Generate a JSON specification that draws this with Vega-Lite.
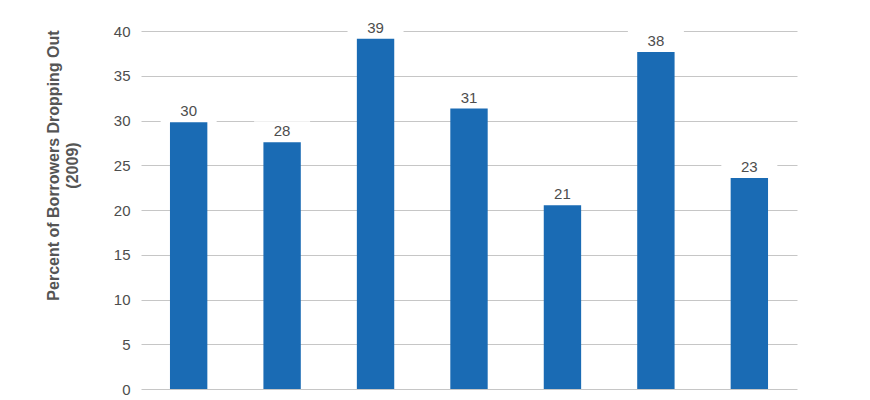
{
  "$schema": "https://vega.github.io/schema/vega-lite/v6.json",
  "width": 656,
  "height": 358,
  "autosize": "none",
  "padding": {"left": 141, "top": 31, "right": 73, "bottom": 11},
  "background": "white",
  "config": {
    "view": {"stroke": null},
    "font": "Liberation Sans"
  },
  "data": {
    "values": [
      {"group": "1", "value": 29.8, "label": "30"},
      {"group": "2", "value": 27.57, "label": "28"},
      {"group": "3", "value": 39.14, "label": "39"},
      {"group": "4", "value": 31.33, "label": "31"},
      {"group": "5", "value": 20.54, "label": "21"},
      {"group": "6", "value": 37.65, "label": "38"},
      {"group": "7", "value": 23.58, "label": "23"}
    ]
  },
  "encoding": {
    "x": {
      "field": "group",
      "type": "nominal",
      "sort": null,
      "scale": {"paddingInner": 0.6, "paddingOuter": 0.31},
      "axis": null
    }
  },
  "layer": [
    {
      "mark": {"type": "bar", "color": "white", "width": 56, "y2Offset": -21},
      "encoding": {
        "y": {
          "field": "value",
          "type": "quantitative",
          "scale": {"domain": [0, 40], "nice": false},
          "axis": {
            "values": [0, 5, 10, 15, 20, 25, 30, 35, 40],
            "title": ["Percent of Borrowers Dropping Out", "(2009)"],
            "titleFont": "Liberation Sans",
            "titleFontSize": 16,
            "titleFontWeight": "bold",
            "titleColor": "#555555",
            "titleX": -88,
            "titleY": 134,
            "titleAngle": -90,
            "titleAlign": "center",
            "titleBaseline": "middle",
            "titleLineHeight": 19,
            "labelFont": "Liberation Sans",
            "labelFontSize": 15,
            "labelColor": "#4d4d4d",
            "labelPadding": 11,
            "ticks": false,
            "tickSize": 0,
            "domain": false,
            "grid": true,
            "gridColor": "#c6c6c6",
            "gridWidth": 1
          }
        },
        "y2": {"field": "value"}
      }
    },
    {
      "mark": {"type": "bar", "color": "#1a6bb4"},
      "encoding": {
        "y": {"field": "value", "type": "quantitative"}
      }
    },
    {
      "mark": {"type": "text", "dy": -6, "baseline": "alphabetic", "fontSize": 15, "color": "#4d4d4d", "font": "Liberation Sans"},
      "encoding": {
        "y": {"field": "value", "type": "quantitative"},
        "text": {"field": "label"}
      }
    }
  ]
}
